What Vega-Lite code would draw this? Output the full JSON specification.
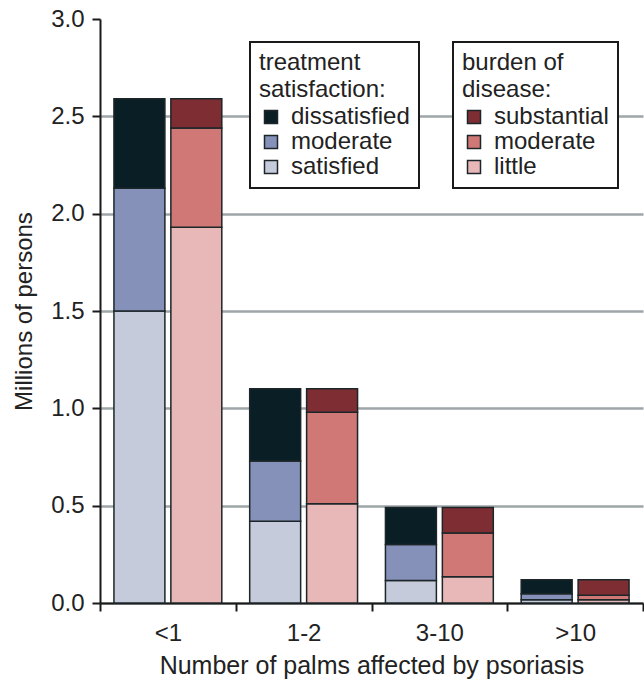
{
  "$schema": "https://vega.github.io/schema/vega-lite/v6.json",
  "width": 644,
  "height": 679,
  "autosize": {"type": "fit", "contains": "padding"},
  "padding": {"left": 12, "top": 7, "right": 0, "bottom": 1},
  "background": "white",
  "config": {
    "view": {"stroke": null},
    "font": "Liberation Sans",
    "axis": {
      "labelFont": "Liberation Sans",
      "titleFont": "Liberation Sans",
      "labelFontSize": 24,
      "titleFontSize": 24,
      "titleFontWeight": "normal",
      "labelColor": "#222222",
      "titleColor": "#222222",
      "domainColor": "#1a1a1a",
      "domainWidth": 2,
      "tickColor": "#1a1a1a",
      "tickWidth": 2,
      "tickSize": 8
    },
    "legend": {
      "labelFont": "Liberation Sans",
      "titleFont": "Liberation Sans",
      "labelFontSize": 24,
      "titleFontSize": 24,
      "titleFontWeight": "normal",
      "titleLineHeight": 27,
      "labelColor": "#222222",
      "titleColor": "#222222",
      "titlePadding": 3,
      "rowPadding": 1,
      "labelOffset": 8,
      "padding": 9,
      "symbolType": "square",
      "symbolSize": 169,
      "symbolStrokeColor": "#1c2629",
      "symbolStrokeWidth": 1.5,
      "symbolOpacity": 1,
      "strokeColor": "#1a1a1a",
      "fillColor": "white"
    }
  },
  "data": {
    "values": [
      {"category": "<1", "group": "satisfaction", "level": "satisfied", "value": 1.5},
      {"category": "<1", "group": "satisfaction", "level": "moderate", "value": 0.63},
      {"category": "<1", "group": "satisfaction", "level": "dissatisfied", "value": 0.46},
      {"category": "<1", "group": "burden", "level": "little", "value": 1.93},
      {"category": "<1", "group": "burden", "level": "moderate", "value": 0.51},
      {"category": "<1", "group": "burden", "level": "substantial", "value": 0.15},
      {"category": "1-2", "group": "satisfaction", "level": "satisfied", "value": 0.42},
      {"category": "1-2", "group": "satisfaction", "level": "moderate", "value": 0.31},
      {"category": "1-2", "group": "satisfaction", "level": "dissatisfied", "value": 0.37},
      {"category": "1-2", "group": "burden", "level": "little", "value": 0.51},
      {"category": "1-2", "group": "burden", "level": "moderate", "value": 0.47},
      {"category": "1-2", "group": "burden", "level": "substantial", "value": 0.12},
      {"category": "3-10", "group": "satisfaction", "level": "satisfied", "value": 0.115},
      {"category": "3-10", "group": "satisfaction", "level": "moderate", "value": 0.185},
      {"category": "3-10", "group": "satisfaction", "level": "dissatisfied", "value": 0.19},
      {"category": "3-10", "group": "burden", "level": "little", "value": 0.135},
      {"category": "3-10", "group": "burden", "level": "moderate", "value": 0.225},
      {"category": "3-10", "group": "burden", "level": "substantial", "value": 0.13},
      {"category": ">10", "group": "satisfaction", "level": "satisfied", "value": 0.017},
      {"category": ">10", "group": "satisfaction", "level": "moderate", "value": 0.031},
      {"category": ">10", "group": "satisfaction", "level": "dissatisfied", "value": 0.072},
      {"category": ">10", "group": "burden", "level": "little", "value": 0.017},
      {"category": ">10", "group": "burden", "level": "moderate", "value": 0.023},
      {"category": ">10", "group": "burden", "level": "substantial", "value": 0.08}
    ]
  },
  "encoding": {
    "x": {
      "field": "category",
      "type": "nominal",
      "sort": ["<1", "1-2", "3-10", ">10"],
      "scale": {"paddingInner": 0, "paddingOuter": 0},
      "axis": {
        "title": "Number of palms affected by psoriasis",
        "titleFontSize": 25,
        "labelAngle": 0,
        "labelPadding": 10,
        "titlePadding": 8,
        "tickBand": "extent",
        "grid": false
      }
    },
    "xOffset": {
      "field": "group",
      "type": "nominal",
      "scale": {"domain": ["satisfaction", "burden"], "paddingInner": 0.105, "paddingOuter": 0.245}
    },
    "y": {
      "field": "value",
      "type": "quantitative",
      "aggregate": "sum",
      "stack": "zero",
      "scale": {"domain": [0, 3], "nice": false},
      "axis": {
        "title": "Millions of persons",
        "values": [0, 0.5, 1, 1.5, 2, 2.5, 3],
        "format": ".1f",
        "labelPadding": 8,
        "titlePadding": 14,
        "grid": true,
        "gridColor": "#9ea6a9",
        "gridWidth": 2.5,
        "gridOpacity": {"condition": {"test": "datum.value >= 3", "value": 0}, "value": 1}
      }
    }
  },
  "layer": [
    {
      "transform": [{"filter": "datum.group === 'satisfaction'"}],
      "mark": {"type": "bar", "stroke": "#1c2629", "strokeWidth": 1.5},
      "encoding": {
        "color": {
          "field": "level",
          "type": "nominal",
          "scale": {
            "domain": ["dissatisfied", "moderate", "satisfied"],
            "range": ["#0a1e26", "#8591b9", "#c6cbdc"]
          },
          "legend": {
            "title": ["treatment", "satisfaction:"],
            "orient": "none",
            "legendX": 150,
            "legendY": 23,
            "encode": {"legend": {"update": {"strokeWidth": {"value": 2}}}}
          }
        },
        "order": {"field": "level", "sort": "descending"}
      }
    },
    {
      "transform": [{"filter": "datum.group === 'burden'"}],
      "mark": {"type": "bar", "stroke": "#1c2629", "strokeWidth": 1.5},
      "encoding": {
        "color": {
          "field": "level",
          "type": "nominal",
          "scale": {
            "domain": ["substantial", "moderate", "little"],
            "range": ["#7e2e33", "#d07876", "#e8b8b9"]
          },
          "legend": {
            "title": ["burden of", "disease:"],
            "orient": "none",
            "legendX": 353,
            "legendY": 23,
            "encode": {"legend": {"update": {"strokeWidth": {"value": 2}}}}
          }
        },
        "order": {"field": "level", "sort": "ascending"}
      }
    }
  ],
  "resolve": {"scale": {"color": "independent"}}
}
